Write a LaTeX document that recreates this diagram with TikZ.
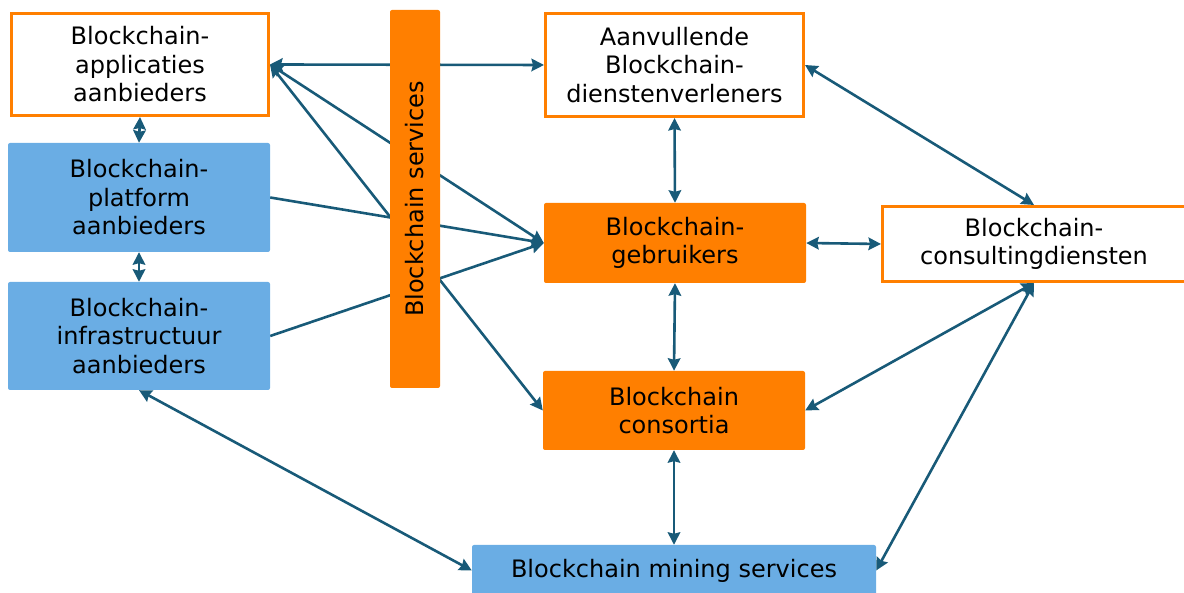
\documentclass[tikz,border=0pt]{standalone}
\usepackage{fontspec}
\setmainfont{DejaVu Sans}
\usetikzlibrary{arrows.meta,backgrounds}
\definecolor{bcorange}{HTML}{FF7F00}
\definecolor{bcblue}{HTML}{6AADE4}
\definecolor{bclink}{HTML}{185A78}
\tikzset{>={Stealth[length=12.5pt,width=12.5pt,inset=1.5pt]}}
\tikzset{
  box/.style={align=center, inner sep=0pt, font=\fontsize{24}{28.5}\selectfont},
  openbox/.style={box, draw=bcorange, line width=3pt, fill=white},
  orangebox/.style={box, fill=bcorange, rounded corners=2pt},
  bluebox/.style={box, fill=bcblue, rounded corners=2pt},
  link/.style={bclink, line width=2.6pt}
}

\begin{document}
\begin{tikzpicture}[x=1pt,y=1pt]

    \useasboundingbox (0,0) rectangle (1184,593);

    % left column
    \node[openbox, minimum width=257, minimum height=102] (app) at (140,528.5) {Blockchain-\\applicaties\\aanbieders};
    \node[bluebox, minimum width=262, minimum height=109] (plat) at (139,395.5) {Blockchain-\\platform\\aanbieders};
    \node[bluebox, minimum width=262, minimum height=108] (infra) at (139,257) {Blockchain-\\infrastructuur\\aanbieders};

    \node[orangebox, rotate=90, minimum width=378, minimum height=50] (services) at (415,394) {Blockchain services};

    % middle column
    \node[openbox, minimum width=258, minimum height=103] (aanv) at (674.5,528) {Aanvullende\\Blockchain-\\dienstenverleners};
    \node[orangebox, minimum width=262, minimum height=80] (gebr) at (675,350) {Blockchain-\\gebruikers};
    \node[orangebox, minimum width=262, minimum height=79] (cons) at (674,182.5) {Blockchain\\consortia};
    \node[bluebox, minimum width=404, minimum height=51] (mining) at (674,22.5) {Blockchain mining services};

    % right, cut off by the page edge
    \node[openbox, minimum width=311, minimum height=75] (consult) at (1038,349) {\hspace*{-8pt}Blockchain-\\\hspace*{-8pt}consultingdiensten};

    \begin{scope}[on background layer]
        \draw[link, <->] (app.east) -- (aanv.west);
        \draw[link, <->] (app.east) -- (gebr.west);
        \draw[link, <->] (app.east) -- (cons.west);
        \draw[link, ->] (plat.east) -- (gebr.west);
        \draw[link, ->] (infra.east) -- (gebr.west);
    \end{scope}

    \draw[link, <->] (app.south) -- (plat.north);
    \draw[link, <->] (plat.south) -- (infra.north);
    \draw[link, <->] (infra.south) -- (mining.west);

    \draw[link, <->] (aanv.south) -- (gebr.north);
    \draw[link, <->] (gebr.south) -- (cons.north);
    \draw[link, <->] (cons.south) -- (mining.north);

    \draw[link, <->] ([xshift=-4pt]consult.north) -- (aanv.east);
    \draw[link, <->] (gebr.east) -- (consult.west);
    \draw[link, <->] (cons.east) -- ([xshift=-4pt]consult.south);
    \draw[link, <->] (mining.east) -- ([xshift=-4pt]consult.south);

\end{tikzpicture}
\end{document}
